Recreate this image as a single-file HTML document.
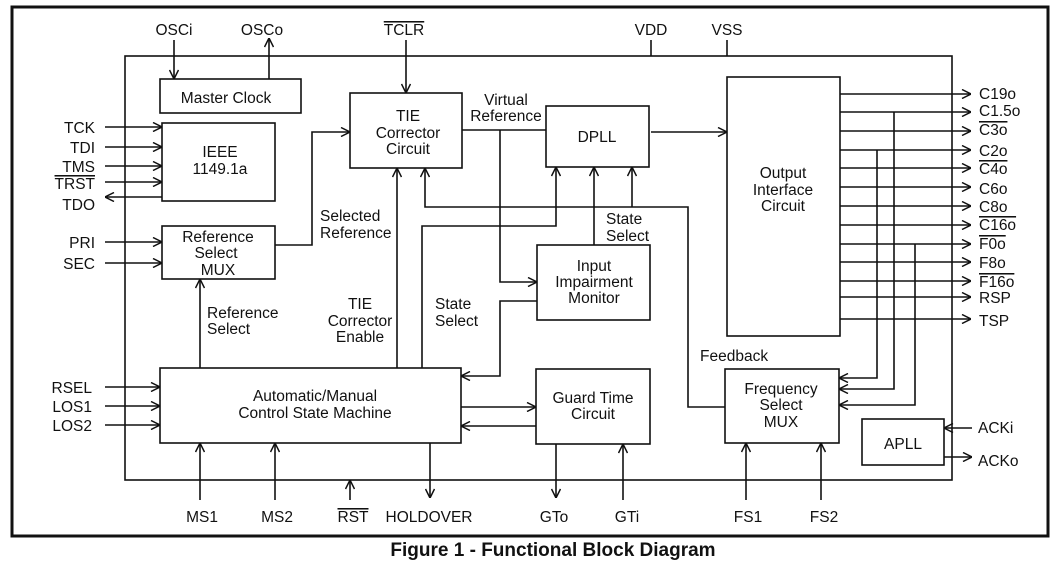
<!DOCTYPE html>
<html><head><meta charset="utf-8"><style>
html,body{margin:0;padding:0;background:#fff;}
svg{display:block;}
text{font-family:"Liberation Sans",sans-serif;font-size:15.5px;fill:#111;}
.c{text-anchor:middle;}
.r{text-anchor:end;}
.ov{text-decoration:overline;}
</style></head><body>
<svg width="1057" height="576" viewBox="0 0 1057 576" xmlns="http://www.w3.org/2000/svg">
<defs>
<marker id="a" viewBox="0 0 10 10" refX="10" refY="5" markerWidth="10" markerHeight="10" markerUnits="userSpaceOnUse" orient="auto">
<polyline points="1,0.5 10,5 1,9.5" fill="none" stroke="#111" stroke-width="1.5"/>
</marker>
</defs>
<g fill="none" stroke="#111" stroke-width="1.6">
<rect x="12" y="7" width="1036" height="529" stroke-width="3"/>
<rect x="125" y="56" width="827" height="424"/>
<rect x="160" y="79" width="141" height="34"/>
<rect x="350" y="93" width="112" height="75"/>
<rect x="162" y="123" width="113" height="78"/>
<rect x="162" y="226" width="113" height="53"/>
<rect x="546" y="106" width="103" height="61"/>
<rect x="537" y="245" width="113" height="75"/>
<rect x="727" y="77" width="113" height="259"/>
<rect x="160" y="368" width="301" height="75"/>
<rect x="536" y="369" width="114" height="75"/>
<rect x="725" y="369" width="114" height="74"/>
<rect x="862" y="419" width="82" height="46"/>
<line x1="174" y1="40" x2="174" y2="79" marker-end="url(#a)"/>
<line x1="269" y1="79" x2="269" y2="38" marker-end="url(#a)"/>
<line x1="406" y1="40" x2="406" y2="93" marker-end="url(#a)"/>
<line x1="651" y1="40" x2="651" y2="56"/>
<line x1="727" y1="40" x2="727" y2="56"/>
<line x1="105" y1="127" x2="162" y2="127" marker-end="url(#a)"/>
<line x1="105" y1="147" x2="162" y2="147" marker-end="url(#a)"/>
<line x1="105" y1="166" x2="162" y2="166" marker-end="url(#a)"/>
<line x1="105" y1="182" x2="162" y2="182" marker-end="url(#a)"/>
<line x1="162" y1="197" x2="105" y2="197" marker-end="url(#a)"/>
<line x1="105" y1="242" x2="162" y2="242" marker-end="url(#a)"/>
<line x1="105" y1="263" x2="162" y2="263" marker-end="url(#a)"/>
<polyline points="275,245 312,245 312,132 350,132" marker-end="url(#a)"/>
<line x1="462" y1="130" x2="546" y2="130"/>
<polyline points="500,130 500,282 537,282" marker-end="url(#a)"/>
<line x1="651" y1="132" x2="727" y2="132" marker-end="url(#a)"/>
<polyline points="422,368 422,226 556,226 556,167" marker-end="url(#a)"/>
<line x1="594" y1="245" x2="594" y2="167" marker-end="url(#a)"/>
<line x1="632" y1="207" x2="632" y2="167" marker-end="url(#a)"/>
<polyline points="725,407 688,407 688,207 425,207 425,168" marker-end="url(#a)"/>
<line x1="397" y1="368" x2="397" y2="168" marker-end="url(#a)"/>
<polyline points="537,301 500,301 500,376 461,376" marker-end="url(#a)"/>
<line x1="200" y1="368" x2="200" y2="279" marker-end="url(#a)"/>
<line x1="105" y1="387" x2="160" y2="387" marker-end="url(#a)"/>
<line x1="105" y1="406" x2="160" y2="406" marker-end="url(#a)"/>
<line x1="105" y1="425" x2="160" y2="425" marker-end="url(#a)"/>
<line x1="461" y1="407" x2="536" y2="407" marker-end="url(#a)"/>
<line x1="536" y1="426" x2="461" y2="426" marker-end="url(#a)"/>
<line x1="200" y1="500" x2="200" y2="443" marker-end="url(#a)"/>
<line x1="275" y1="500" x2="275" y2="443" marker-end="url(#a)"/>
<line x1="350" y1="500" x2="350" y2="480" marker-end="url(#a)"/>
<line x1="430" y1="443" x2="430" y2="498" marker-end="url(#a)"/>
<line x1="556" y1="444" x2="556" y2="498" marker-end="url(#a)"/>
<line x1="623" y1="500" x2="623" y2="444" marker-end="url(#a)"/>
<line x1="746" y1="500" x2="746" y2="443" marker-end="url(#a)"/>
<line x1="821" y1="500" x2="821" y2="443" marker-end="url(#a)"/>
<line x1="972" y1="428" x2="944" y2="428" marker-end="url(#a)"/>
<line x1="944" y1="457" x2="972" y2="457" marker-end="url(#a)"/>
<line x1="840" y1="94" x2="971" y2="94" marker-end="url(#a)"/>
<line x1="840" y1="112" x2="971" y2="112" marker-end="url(#a)"/>
<line x1="840" y1="131" x2="971" y2="131" marker-end="url(#a)"/>
<line x1="840" y1="150" x2="971" y2="150" marker-end="url(#a)"/>
<line x1="840" y1="168" x2="971" y2="168" marker-end="url(#a)"/>
<line x1="840" y1="187" x2="971" y2="187" marker-end="url(#a)"/>
<line x1="840" y1="206" x2="971" y2="206" marker-end="url(#a)"/>
<line x1="840" y1="225" x2="971" y2="225" marker-end="url(#a)"/>
<line x1="840" y1="244" x2="971" y2="244" marker-end="url(#a)"/>
<line x1="840" y1="262" x2="971" y2="262" marker-end="url(#a)"/>
<line x1="840" y1="281" x2="971" y2="281" marker-end="url(#a)"/>
<line x1="840" y1="297" x2="971" y2="297" marker-end="url(#a)"/>
<line x1="840" y1="319" x2="971" y2="319" marker-end="url(#a)"/>
<polyline points="877,150 877,378 839,378" marker-end="url(#a)"/>
<polyline points="894,112 894,389 839,389" marker-end="url(#a)"/>
<polyline points="915,244 915,405 839,405" marker-end="url(#a)"/>
</g>
<g>
<text class="c" x="174" y="35">OSCi</text>
<text class="c" x="262" y="35">OSCo</text>
<text class="c ov" x="404" y="35">TCLR</text>
<text class="c" x="651" y="35">VDD</text>
<text class="c" x="727" y="35">VSS</text>
<text class="c" x="226" y="103">Master Clock</text>
<text class="c" x="408" y="121">TIE</text>
<text class="c" x="408" y="138">Corrector</text>
<text class="c" x="408" y="154">Circuit</text>
<text class="c" x="220" y="157">IEEE</text>
<text class="c" x="220" y="174">1149.1a</text>
<text class="r" x="95" y="133">TCK</text>
<text class="r" x="95" y="153">TDI</text>
<text class="r" x="95" y="172">TMS</text>
<text class="r ov" x="95" y="189">TRST</text>
<text class="r" x="95" y="210">TDO</text>
<text class="r" x="95" y="248">PRI</text>
<text class="r" x="95" y="269">SEC</text>
<text class="c" x="218" y="242">Reference</text>
<text class="c" x="216" y="258">Select</text>
<text class="c" x="218" y="275">MUX</text>
<text x="320" y="221">Selected</text>
<text x="320" y="238">Reference</text>
<text class="c" x="506" y="105">Virtual</text>
<text class="c" x="506" y="121">Reference</text>
<text class="c" x="597" y="142">DPLL</text>
<text x="606" y="224">State</text>
<text x="606" y="241">Select</text>
<text class="c" x="594" y="271">Input</text>
<text class="c" x="594" y="287">Impairment</text>
<text class="c" x="594" y="303">Monitor</text>
<text class="c" x="783" y="178">Output</text>
<text class="c" x="783" y="195">Interface</text>
<text class="c" x="783" y="211">Circuit</text>
<text x="207" y="318">Reference</text>
<text x="207" y="334">Select</text>
<text class="c" x="360" y="309">TIE</text>
<text class="c" x="360" y="326">Corrector</text>
<text class="c" x="360" y="342">Enable</text>
<text x="435" y="309">State</text>
<text x="435" y="326">Select</text>
<text x="700" y="361">Feedback</text>
<text class="c" x="315" y="401">Automatic/Manual</text>
<text class="c" x="315" y="418">Control State Machine</text>
<text class="r" x="92" y="393">RSEL</text>
<text class="r" x="92" y="412">LOS1</text>
<text class="r" x="92" y="431">LOS2</text>
<text class="c" x="593" y="403">Guard Time</text>
<text class="c" x="593" y="419">Circuit</text>
<text class="c" x="781" y="394">Frequency</text>
<text class="c" x="781" y="410">Select</text>
<text class="c" x="781" y="427">MUX</text>
<text class="c" x="903" y="449">APLL</text>
<text x="978" y="433">ACKi</text>
<text x="978" y="466">ACKo</text>
<text class="c" x="202" y="522">MS1</text>
<text class="c" x="277" y="522">MS2</text>
<text class="c ov" x="353" y="522">RST</text>
<text class="c" x="429" y="522">HOLDOVER</text>
<text class="c" x="554" y="522">GTo</text>
<text class="c" x="627" y="522">GTi</text>
<text class="c" x="748" y="522">FS1</text>
<text class="c" x="824" y="522">FS2</text>
<text x="979" y="99">C19o</text>
<text x="979" y="116">C1.5o</text>
<text class="ov" x="979" y="135">C3o</text>
<text x="979" y="156">C2o</text>
<text class="ov" x="979" y="174">C4o</text>
<text x="979" y="194">C6o</text>
<text x="979" y="212">C8o</text>
<text class="ov" x="979" y="230">C16o</text>
<text class="ov" x="979" y="249">F0o</text>
<text x="979" y="268">F8o</text>
<text class="ov" x="979" y="287">F16o</text>
<text x="979" y="303">RSP</text>
<text x="979" y="326">TSP</text>
<text class="c" x="553" y="556" style="font-weight:bold;font-size:19px;">Figure 1 - Functional Block Diagram</text>
</g>
</svg>
</body></html>
